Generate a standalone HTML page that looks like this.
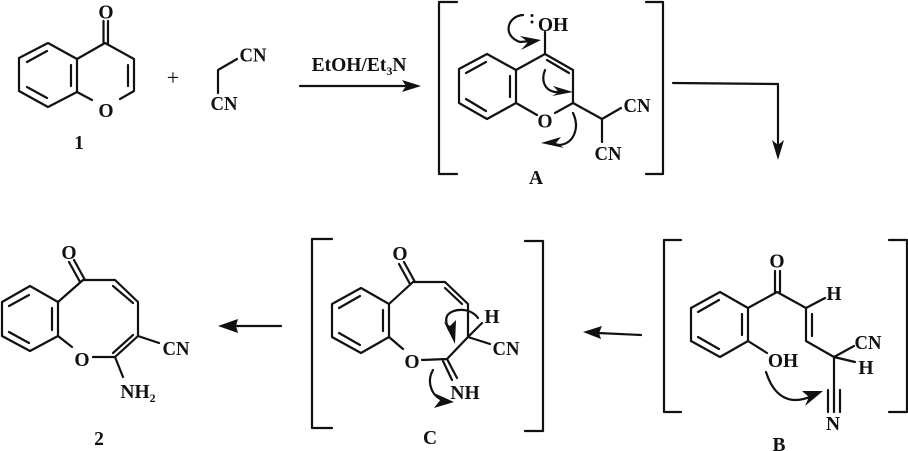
<!DOCTYPE html>
<html><head><meta charset="utf-8"><style>
html,body{margin:0;padding:0;background:#fff;width:908px;height:451px;overflow:hidden}
svg{display:block;filter:blur(.3px)}
text{font-family:"Liberation Serif",serif;font-weight:bold;font-size:19.500px;fill:#111;text-anchor:middle}
.l{fill:none;stroke:#111;stroke-width:2.200;stroke-linecap:round;stroke-linejoin:round}
.h{fill:#111;stroke:none}
</style></head><body>
<svg width="908" height="451" viewBox="0 0 908 451" xmlns="http://www.w3.org/2000/svg">
<!-- 1 -->
<path class="l" d="M19 58L48 43L77 59L77 92L48 107L19 91Z M27 62L47 51 M27 87L47 98 M71 65L71 86 M77 59L105 43L134 59L134 91L120 99 M92 100L77 92 M128 65L128 86 M103.500 43L103.500 21 M108 43L108 21"/>
<text x="106" y="18.500">O</text><text x="106" y="117">O</text>
<text x="79" y="149">1</text>
<text x="173" y="85" style="font-size:22px;font-weight:normal">+</text>
<path class="l" d="M237 59L218 70L218 93"/>
<text x="253" y="61.500" textLength="27" lengthAdjust="spacingAndGlyphs">CN</text><text x="224" y="110" textLength="27" lengthAdjust="spacingAndGlyphs">CN</text>
<!-- reagent arrow -->
<path class="l" d="M300 86L410 86"/><path class="h" d="M421 86L402 80L406 86L402 92Z"/>
<text x="359" y="71">EtOH/Et<tspan font-size="12" dy="4">3</tspan><tspan dy="-4">N</tspan></text>
<!-- A -->
<path class="l" d="M457 2L439 2L439 174L457 174 M646 2L663 2L663 174L646 174"/>
<path class="l" d="M459 69L487 54L516 70L516 103L487 119L459 103Z M466 73L486 62 M466 99L486 111 M510 76L510 97 M516 70L545 54L573 70L573 103L555 113 M516 103L537 115 M547 60L569 73 M545 54L545 32 M573 103L602 119L621 108 M602 119L602 142"/>
<text x="553" y="31">OH</text><text x="545" y="127.500">O</text>
<text x="637" y="112" textLength="27" lengthAdjust="spacingAndGlyphs">CN</text><text x="608" y="160" textLength="27" lengthAdjust="spacingAndGlyphs">CN</text>
<text x="536" y="184">A</text>
<circle class="h" cx="532" cy="15.500" r="1.500"/><circle class="h" cx="532" cy="22" r="1.500"/>
<path class="l" d="M523 15C507 16 502 36 520 42L532 41"/><path class="h" d="M541 40L520 36L528 42L521 50Z"/>
<path class="l" d="M545 70C541 80 544 90 555 92L562 92"/><path class="h" d="M573 92L553 86L559 92L552 96Z"/>
<path class="l" d="M573 113C580 128 574 143 560 145L552 144"/><path class="h" d="M541 143L561 137L556 143L564 148Z"/>
<!-- right-angle arrow -->
<path class="l" d="M673 83L778 84L778 148"/><path class="h" d="M778 160L772 140L778 145L784 140Z"/>
<!-- B -->
<path class="l" d="M681 240L664 240L664 412L681 412 M889 240L907 240L907 412L889 412"/>
<path class="l" d="M691 308L720 292L748 308L748 341L720 357L691 341Z M698 312L719 300 M698 337L719 349 M742 314L742 335 M748 308L777 292L806 308L825 298 M775 292L775 271 M780 292L780 271 M806 308L806 341L834 357L854 346 M812 314L812 336 M834 357L855 362 M834 357L834 412 M828 390L828 412 M840 390L840 412 M748 341L767 353"/>
<text x="777" y="267.500">O</text><text x="834" y="300">H</text><text x="868" y="349" textLength="27" lengthAdjust="spacingAndGlyphs">CN</text><text x="866" y="374">H</text>
<text x="783" y="367">OH</text><text x="833" y="430">N</text><text x="779" y="451">B</text>
<path class="l" d="M766 372C774 397 790 406 812 396"/><path class="h" d="M823 391L802 391L809 397L805 406Z"/>
<!-- arrow B to C -->
<path class="l" d="M641 335L598 333"/><path class="h" d="M583 332L602 326L599 333L601 339Z"/>
<!-- C -->
<path class="l" d="M332 239L312 239L312 428L332 428 M525 241L543 241L543 431L525 431"/>
<path class="l" d="M332 304L361 288L389 304L389 337L361 353L332 337Z M339 308L360 296 M339 333L360 345 M383 310L383 331 M389 304L413 282L445 282L468 304L468 337L447 359L422 360 M389 337L403 349 M445 288L462 304 M415 282L404 262 M410 284L399 264 M468 337L482 323 M468 337L490 344 M447 359L457 378 M443 361L452 380"/>
<text x="400" y="260">O</text><text x="412" y="368">O</text><text x="492" y="323">H</text><text x="506" y="355" textLength="27" lengthAdjust="spacingAndGlyphs">CN</text><text x="465" y="399">NH</text><text x="430" y="444">C</text>
<path class="l" d="M478 318C470 307 452 308 447 316C445 321 447 325 449 330"/><path class="h" d="M455 344L444 322L450 326L456 320Z"/>
<path class="l" d="M433 370C426 382 432 397 443 400"/><path class="h" d="M454 402L434 393L441 399L434 408Z"/>
<!-- arrow C to 2 -->
<path class="l" d="M281 326L232 326"/><path class="h" d="M218 326L238 319L236 326L238 333Z"/>
<!-- 2 -->
<path class="l" d="M2 302L30 286L58 302L58 336L30 351L2 336Z M9 306L29 295 M9 332L29 343 M52 308L52 330 M58 302L83 280L115 280L138 302L138 336L115 357L93 357 M58 336L72 347 M113 286L133 303 M133 335L113 353 M85 280L74 260 M80 282L69 262 M138 336L159 343 M115 357L123 377"/>
<text x="69" y="259">O</text><text x="82" y="366">O</text><text x="176" y="355" textLength="27" lengthAdjust="spacingAndGlyphs">CN</text>
<text x="138" y="398">NH<tspan font-size="12" dy="4">2</tspan></text>
<text x="99" y="445">2</text>
</svg>
</body></html>
